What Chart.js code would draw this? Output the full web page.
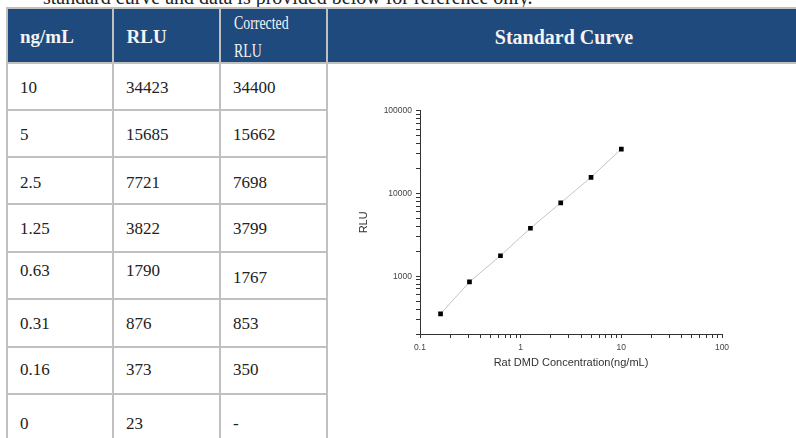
<!DOCTYPE html>
<html>
<head>
<meta charset="utf-8">
<script src="https://cdn.jsdelivr.net/npm/chart.js@4/dist/chart.umd.min.js"></script>
<style>
  html, body { margin:0; padding:0; background:#fff; width:796px; height:438px; overflow:hidden; }
  body { position:relative; font-family:"Liberation Serif","Times New Roman",serif; color:#222; }
  #intro { position:absolute; left:43px; top:-13px; font-size:20px; line-height:20px; white-space:nowrap; color:#222; }
  #grid { position:absolute; left:6px; top:7px; width:800px; height:450px; background:#c0c0c0; }
  .cell { position:absolute; background:#fff; box-sizing:border-box; }
  .head { background:#1f4a7d; color:#f4f4f4; font-weight:bold; }
  .txt { position:absolute; white-space:nowrap; }
  #chartBox { position:absolute; left:340px; top:100px; width:400px; height:280px; }
</style>
</head>
<body>
<div id="intro">standard curve and data is provided below for reference only.</div>
<div id="grid"></div>
<div id="cells"></div>
<div id="chartBox"><canvas id="c" width="400" height="280"></canvas></div>
<script>
// ---- data ----
const headers = ['ng/mL', 'RLU', 'Corrected RLU', 'Standard Curve'];
const conc = [10, 5, 2.5, 1.25, 0.63, 0.31, 0.16, 0];
const rlu = [34423, 15685, 7721, 3822, 1790, 876, 373, 23];
const corrected = [34400, 15662, 7698, 3799, 1767, 853, 350, null];
const xTickValues = [0.1,0.2,0.3,0.4,0.5,0.6,0.7,0.8,0.9,1,2,3,4,5,6,7,8,9,10,20,30,40,50,60,70,80,90,100];
const xTickLabels = ['0.1', '1', '10', '100'];
const yTickValues = [200,300,400,500,600,700,800,900,1000,2000,3000,4000,5000,6000,7000,8000,9000,10000,20000,30000,40000,50000,60000,70000,80000,90000,100000];
const yTickLabels = ['1000', '10000', '100000'];
const xTitle = 'Rat DMD Concentration(ng/mL)';
const yTitle = 'RLU';

// ---- table layout ----
const colX = [8, 114, 221, 328];
const colW = [104, 105, 105, 472];
const rowY = [64, 111, 158, 205, 253, 300, 348, 395];
const rowH = [45, 45, 45, 46, 45, 46, 45, 56];
const rowDy = [1, 1, 2, 0, -5, 0, -1, 0];
const cellDy = { '4,2': 2 };
const cells = document.getElementById('cells');
function mk(cls, x, y, w, h) {
  const d = document.createElement('div');
  d.className = cls;
  d.style.left = x + 'px'; d.style.top = y + 'px';
  d.style.width = w + 'px'; d.style.height = h + 'px';
  cells.appendChild(d);
  return d;
}
function txt(parent, text, styles) {
  const s = document.createElement('div');
  s.className = 'txt';
  s.textContent = text;
  Object.assign(s.style, styles);
  parent.appendChild(s);
  return s;
}
// header row
const hTop = 9, hH = 53;
let h0 = mk('cell head', colX[0], hTop, colW[0], hH);
txt(h0, headers[0], { left:'12px', top:'18.4px', fontSize:'19px', lineHeight:'19px' });
let h1 = mk('cell head', colX[1], hTop, colW[1], hH);
txt(h1, headers[1], { left:'12.5px', top:'18.4px', fontSize:'19px', lineHeight:'19px' });
let h2 = mk('cell head', colX[2], hTop, colW[2], hH);
const parts = headers[2].split(' ');
txt(h2, parts[0], { left:'13px', top:'0px', fontSize:'18px', lineHeight:'28px', fontWeight:'normal', transform:'scaleX(0.77)', transformOrigin:'left center' });
txt(h2, parts[1], { left:'13px', top:'28px', fontSize:'18px', lineHeight:'28px', fontWeight:'normal', transform:'scaleX(0.77)', transformOrigin:'left center' });
let h3 = mk('cell head', colX[3], hTop, colW[3], hH);
txt(h3, headers[3], { left:'0', width:'100%', textAlign:'center', top:'17.5px', fontSize:'20px', lineHeight:'20px' });

// body rows
for (let r = 0; r < conc.length; r++) {
  const vals = [String(conc[r]), String(rlu[r]), corrected[r] === null ? '-' : String(corrected[r])];
  for (let c = 0; c < 3; c++) {
    const cell = mk('cell', colX[c], rowY[r], colW[c], rowH[r]);
    const dy = (cellDy[r + ',' + c] !== undefined ? cellDy[r + ',' + c] : rowDy[r]);
    const top = (rowH[r] - 17) / 2 + dy;
    txt(cell, vals[c], { left:'12px', top: top + 'px', fontSize:'17px', lineHeight:'17px' });
  }
}
// big chart cell
mk('cell', colX[3], rowY[0], colW[3], 400);

// ---- chart ----
const points = [];
for (let i = 0; i < conc.length; i++) {
  if (corrected[i] !== null && conc[i] > 0) points.push({ x: conc[i], y: corrected[i] });
}
const tickFont = { family: 'Liberation Sans, Arial, sans-serif', size: 8.5 };
const titleFont = { family: 'Liberation Sans, Arial, sans-serif', size: 11 };
new Chart(document.getElementById('c'), {
  type: 'scatter',
  data: {
    datasets: [{
      data: points,
      showLine: true,
      borderColor: '#c4c4c4',
      borderWidth: 1,
      tension: 0,
      pointStyle: 'rect',
      pointRadius: 3.3,
      pointBackgroundColor: '#000',
      pointBorderColor: '#000',
      pointBorderWidth: 0
    }]
  },
  options: {
    responsive: false,
    devicePixelRatio: 1,
    animation: false,
    events: [],
    layout: { padding: { left: 14, top: 10.7, right: 18, bottom: 6 } },
    plugins: { legend: { display: false }, tooltip: { enabled: false } },
    scales: {
      x: {
        type: 'logarithmic',
        min: 0.1, max: 100,
        afterBuildTicks: s => { s.ticks = xTickValues.map(v => ({ value: v, major: xTickLabels.includes(String(v)) })); },
        afterFit: s => { s.height = 40; },
        grid: { drawOnChartArea: false, drawTicks: true, tickLength: 4, tickColor: '#333', tickWidth: 1 },
        border: { display: true, color: '#333', width: 1 },
        ticks: {
          autoSkip: false, maxRotation: 0, minRotation: 0, padding: 5,
          color: '#444', font: tickFont,
          callback: v => xTickLabels.includes(String(v)) ? String(v) : ''
        },
        title: { display: true, text: xTitle, color: '#333', font: titleFont, padding: { top: 4, bottom: 4 } }
      },
      y: {
        type: 'logarithmic',
        min: 200, max: 100000,
        afterBuildTicks: s => { s.ticks = yTickValues.map(v => ({ value: v, major: yTickLabels.includes(String(v)) })); },
        afterFit: s => { s.width = 66; },
        grid: { drawOnChartArea: false, drawTicks: true, tickLength: 4, tickColor: '#333', tickWidth: 1 },
        border: { display: true, color: '#333', width: 1 },
        ticks: {
          autoSkip: false, padding: 4,
          color: '#444', font: tickFont,
          callback: v => yTickLabels.includes(String(v)) ? String(v) : ''
        },
        title: { display: true, text: yTitle, color: '#333', font: titleFont, padding: { top: 3, bottom: 3 } }
      }
    }
  }
});
</script>
</body>
</html>
